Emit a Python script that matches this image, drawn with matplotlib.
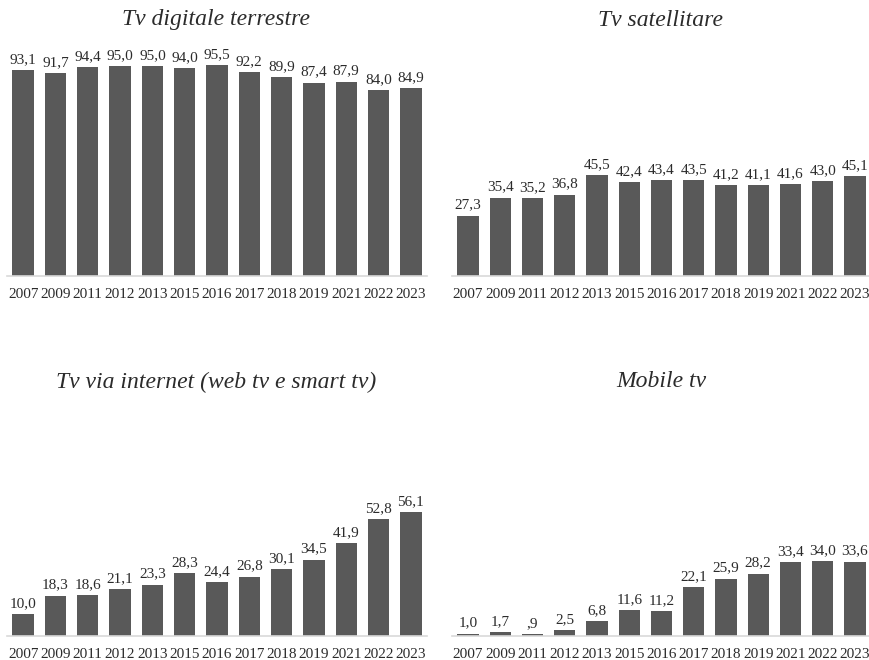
import matplotlib
matplotlib.use("Agg")
import matplotlib.pyplot as plt

years = ["2007", "2009", "2011", "2012", "2013", "2015", "2016",
         "2017", "2018", "2019", "2021", "2022", "2023"]

digitale_terrestre = [93.1, 91.7, 94.4, 95.0, 95.0, 94.0, 95.5, 92.2, 89.9, 87.4, 87.9, 84.0, 84.9]
satellitare = [27.3, 35.4, 35.2, 36.8, 45.5, 42.4, 43.4, 43.5, 41.2, 41.1, 41.6, 43.0, 45.1]
via_internet = [10.0, 18.3, 18.6, 21.1, 23.3, 28.3, 24.4, 26.8, 30.1, 34.5, 41.9, 52.8, 56.1]
mobile_tv = [1.0, 1.7, 0.9, 2.5, 6.8, 11.6, 11.2, 22.1, 25.9, 28.2, 33.4, 34.0, 33.6]

titles = ["Tv digitale terrestre", "Tv satellitare",
          "Tv via internet (web tv e smart tv)", "Mobile tv"]
series = [digitale_terrestre, satellitare, via_internet, mobile_tv]

plt.rcParams["font.family"] = ["Liberation Serif", "DejaVu Serif"]

W, H = 870, 660
fig = plt.figure(figsize=(W / 100, H / 100), dpi=100)

# axes boxes in pixels: left, baseline y, width, height
boxes = [(7, 276, 420, 221), (452, 276, 419, 221),
         (7, 636, 420, 221), (452, 636, 419, 221)]
title_y = [20, 20, 382, 382]
title_x = [216, 661, 216, 661]

BAR = "#595959"
TXT = "#2b2b2b"


def fmt(v):
    s = f"{v:.1f}".replace(".", ",")
    if s.startswith("0,"):
        s = s[1:]
    return s


for vals, title, (l, b, w, h), tx, ty in zip(series, titles, boxes, title_x, title_y):
    ax = fig.add_axes([l / W, 1 - b / H, w / W, h / H])
    x = list(range(len(years)))
    bars = ax.bar(x, vals, width=0.66, color=BAR, zorder=2)
    ax.set_xlim(-0.5, len(years) - 0.5)
    ax.set_ylim(0, 100)
    for s in ("top", "right", "left"):
        ax.spines[s].set_visible(False)
    ax.spines["bottom"].set_color("#d9d9d9")
    ax.spines["bottom"].set_linewidth(1.2)
    ax.set_yticks([])
    ax.set_xticks(x)
    ax.set_xticklabels(years, fontsize=11, color=TXT)
    ax.tick_params(axis="x", length=0, pad=9)
    for rect, v in zip(bars, vals):
        ax.annotate(fmt(v), (rect.get_x() + rect.get_width() / 2, v),
                    xytext=(0, 3), textcoords="offset points",
                    ha="center", va="bottom", fontsize=11, color=TXT)
    fig.text(tx / W, 1 - ty / H, title, ha="center", va="center",
             fontsize=17, style="italic", color=TXT)

fig.savefig("out.png", dpi=100)
